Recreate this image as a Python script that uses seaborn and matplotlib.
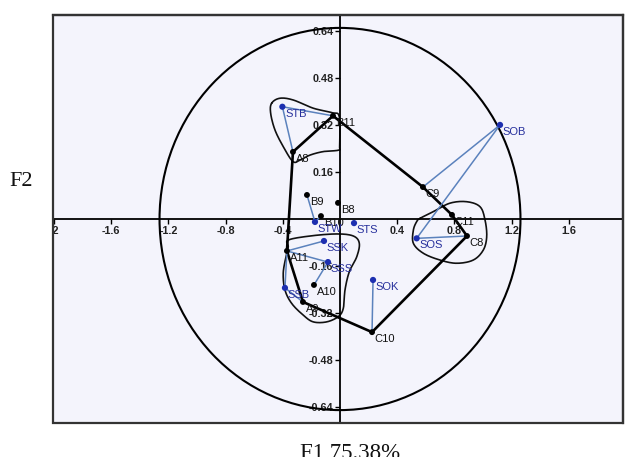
import numpy as np
import pandas as pd
import matplotlib
matplotlib.use("Agg")
import matplotlib.pyplot as plt
from matplotlib.patches import Ellipse, Rectangle
import seaborn as sns

# --- factor scores of the cultivars (black) and the samples (blue) ---
cultivar_names = ["A8", "A9", "A10", "A11", "B8", "B9", "B10", "B11",
                  "C8", "C9", "C10", "C11"]
cultivar_f1 = [-0.329, -0.259, -0.182, -0.371, -0.014, -0.231, -0.133, -0.049,
               0.888, 0.580, 0.224, 0.783]
cultivar_f2 = [0.229, -0.283, -0.225, -0.109, 0.055, 0.082, 0.010, 0.352,
               -0.058, 0.109, -0.386, 0.014]

sample_names = ["STB", "SOB", "STW", "STS", "SSK", "SSS", "SSB", "SOS", "SOK"]
sample_f1 = [-0.403, 1.119, -0.175, 0.098, -0.112, -0.084, -0.385, 0.536, 0.231]
sample_f2 = [0.383, 0.321, -0.010, -0.014, -0.075, -0.147, -0.235, -0.066, -0.208]

# sample-to-cultivar links and the envelope of the cultivars
links = [("STB", "A8"), ("STB", "B11"), ("SOB", "C9"), ("SOB", "SOS"),
         ("SOS", "C8"), ("STW", "B9"), ("STW", "B10"), ("SSK", "A11"),
         ("SSS", "A11"), ("SSS", "A10"), ("SSB", "A11"), ("SSB", "A9"),
         ("SOK", "C10")]
hull_order = ["B11", "C9", "C11", "C8", "C10", "A9", "A11", "A8", "B11"]

# hand-drawn group outlines (F1, F2)
group1_f1 = [-0.478, -0.420, -0.327, -0.187, -0.058, -0.005, -0.003, -0.010,
             -0.117, -0.210, -0.280, -0.329, -0.397, -0.455, -0.485]
group1_f2 = [0.395, 0.412, 0.406, 0.378, 0.363, 0.349, 0.250, 0.235,
             0.230, 0.218, 0.201, 0.196, 0.247, 0.304, 0.361]
group2_f1 = [-0.362, -0.210, -0.023, 0.093, 0.135, 0.117, 0.065, 0.035, 0.023,
             -0.012, -0.093, -0.187, -0.257, -0.338, -0.385, -0.397, -0.378, -0.362]
group2_f2 = [-0.072, -0.058, -0.051, -0.058, -0.083, -0.129, -0.180, -0.242, -0.305,
             -0.333, -0.351, -0.351, -0.328, -0.288, -0.242, -0.185, -0.129, -0.095]
group3_f1 = [0.559, 0.652, 0.769, 0.886, 0.979, 1.014, 1.026, 1.002, 0.932,
             0.816, 0.699, 0.583, 0.513, 0.513, 0.536]
group3_f2 = [0.002, 0.025, 0.054, 0.059, 0.042, -0.003, -0.060, -0.106, -0.140,
             -0.151, -0.140, -0.117, -0.083, -0.038, -0.009]

x_ticks = [-2, -1.6, -1.2, -0.8, -0.4, 0.4, 0.8, 1.2, 1.6]
y_ticks = [-0.64, -0.48, -0.32, -0.16, 0.16, 0.32, 0.48, 0.64]

cultivars = pd.DataFrame({"name": cultivar_names, "F1": cultivar_f1, "F2": cultivar_f2})
samples = pd.DataFrame({"name": sample_names, "F1": sample_f1, "F2": sample_f2})
coords = {r.name: (r.F1, r.F2) for r in pd.concat([cultivars, samples]).itertuples()}


def smooth_closed(xs, ys, n=14):
    """Closed Catmull-Rom curve through the outline vertices."""
    p = np.column_stack([xs, ys])
    m = len(p)
    t = np.linspace(0, 1, n, endpoint=False)[:, None]
    parts = []
    for i in range(m):
        p0, p1, p2, p3 = p[(i - 1) % m], p[i], p[(i + 1) % m], p[(i + 2) % m]
        parts.append(0.5 * (2 * p1 + (-p0 + p2) * t
                            + (2 * p0 - 5 * p1 + 4 * p2 - p3) * t ** 2
                            + (-p0 + 3 * p1 - 3 * p2 + p3) * t ** 3))
    parts.append(parts[0][:1])
    return np.vstack(parts)


sns.set_theme(style="white")
plt.rcParams["font.family"] = ["Liberation Sans", "DejaVu Sans"]

fig = plt.figure(figsize=(6.25, 4.57), dpi=100)
ax = fig.add_axes([53 / 625, 34 / 457, 570 / 625, 408 / 457])
ax.set_facecolor("#f4f4fc")
ax.set_xlim(-2.007, 1.979)
ax.set_ylim(-0.696, 0.696)

# correlation circle
ax.add_patch(Ellipse((0, 0), 2 * 1.262, 2 * 0.652, fill=False,
                     edgecolor="black", lw=1.5, zorder=2))

# group outlines
for gx, gy in [(group1_f1, group1_f2), (group2_f1, group2_f2), (group3_f1, group3_f2)]:
    c = smooth_closed(gx, gy)
    ax.plot(c[:, 0], c[:, 1], color="#111111", lw=1.2, zorder=3)

# envelope of the cultivars
hx = [coords[k][0] for k in hull_order]
hy = [coords[k][1] for k in hull_order]
ax.plot(hx, hy, color="black", lw=1.9, zorder=4)

# links from samples to cultivars
for a, b in links:
    ax.plot([coords[a][0], coords[b][0]], [coords[a][1], coords[b][1]],
            color="#5b82bd", lw=1.1, zorder=4)

sns.scatterplot(data=cultivars, x="F1", y="F2", color="black", s=18,
                edgecolor="none", ax=ax, zorder=5, legend=False)
sns.scatterplot(data=samples, x="F1", y="F2", color="#1d2fb0", s=20,
                edgecolor="none", ax=ax, zorder=5, legend=False)

for r in cultivars.itertuples():
    ax.annotate(r.name, (r.F1, r.F2), xytext=(2, -1.5), textcoords="offset points",
                ha="left", va="top", fontsize=8, color="#111111", zorder=6)
for r in samples.itertuples():
    ax.annotate(r.name, (r.F1, r.F2), xytext=(2, -1.5), textcoords="offset points",
                ha="left", va="top", fontsize=8, color="#262f9c", zorder=6)

# axes through the origin with the outer frame kept as a box
for side in ["left", "bottom"]:
    ax.spines[side].set_position(("data", 0))
    ax.spines[side].set_color("black")
    ax.spines[side].set_linewidth(1.3)
    ax.spines[side].set_zorder(3)
for side in ["top", "right"]:
    ax.spines[side].set_color("#333333")
    ax.spines[side].set_linewidth(1.6)
ax.add_patch(Rectangle((0, 0), 1, 1, transform=ax.transAxes, fill=False,
                       edgecolor="#333333", lw=1.6, clip_on=False, zorder=7))

ax.set_xticks(x_ticks)
ax.set_xticklabels([f"{v:g}" for v in x_ticks])
ax.set_yticks(y_ticks)
ax.set_yticklabels([f"{v:g}" for v in y_ticks])
ax.tick_params(axis="both", which="major", direction="out", length=3.5, width=1,
               color="black", labelsize=7.8, labelcolor="#222222", pad=1.2,
               left=True, bottom=True)
for lab in ax.get_xticklabels() + ax.get_yticklabels():
    lab.set_fontweight("bold")
    lab.set_clip_box(ax.bbox)
    lab.set_clip_on(True)
ax.set_xlabel("")
ax.set_ylabel("")

fig.text(21 / 625, 1 - 181 / 457, "F2", ha="center", va="center",
         fontsize=16, family=["Liberation Serif", "DejaVu Serif"], color="#111111")
fig.text(350 / 625, -0.004, "F1 75.38%", ha="center", va="baseline",
         fontsize=16.5, family=["Liberation Serif", "DejaVu Serif"], color="#111111")

fig.savefig("out.png", dpi=100, facecolor="white")
